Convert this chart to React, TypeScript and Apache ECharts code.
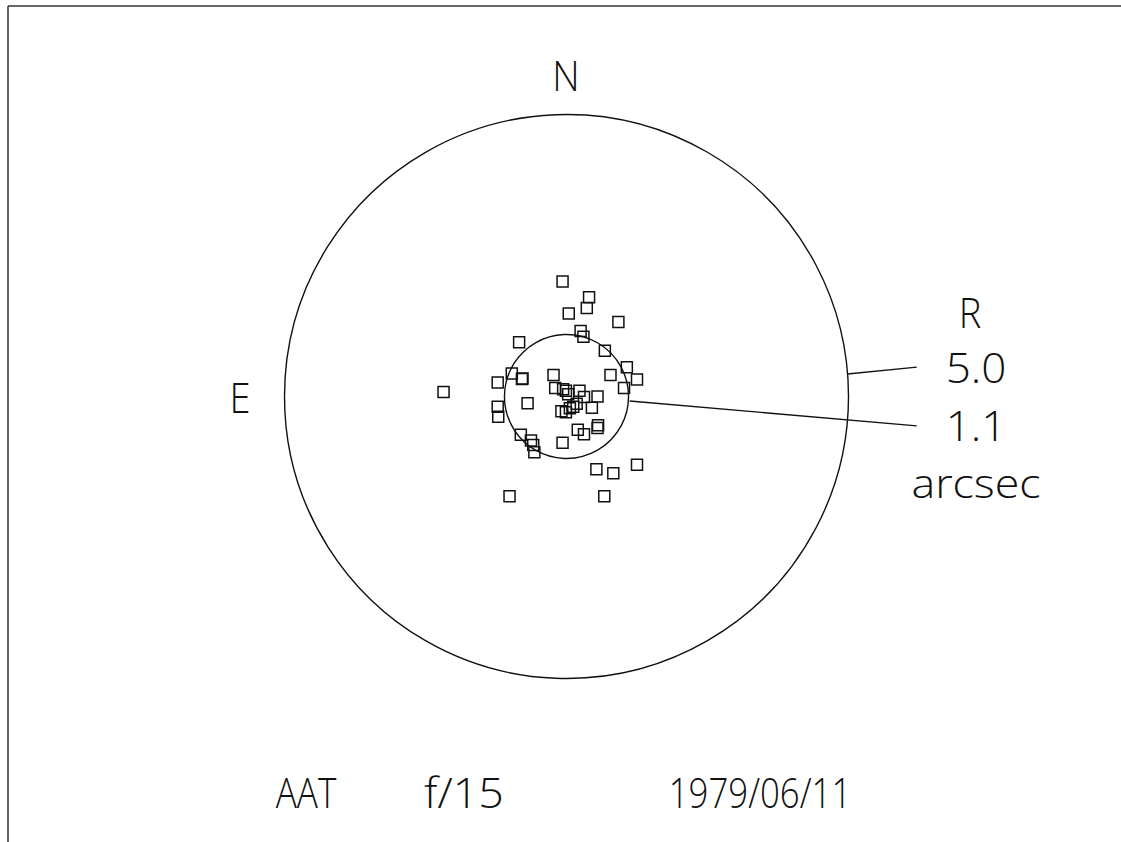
import React, { useEffect, useRef } from "react";
import * as echarts from "echarts";

// Offsets of each image from the reference position, in arcsec (x to the right, y up)
const offsetX = [
  -0.07, 0.4, 0.36, 0.04, 0.92, 0.25, 0.3, -0.84, 0.68, 1.07,
  1.25, 1.02, 0.78, -0.97, -0.78, -0.79, -1.22, -2.18, -0.23, -0.2,
  -0.06, -0.01, 0.03, 0.23, 0.31, 0.55, 0.45, -0.69, -1.22, -1.21,
  -0.09, -0.01, 0.06, 0.12, 0.18, 0.56, 0.55, 0.2, 0.31, -0.81,
  -0.63, -0.59, -0.57, -0.07, 0.53, 0.83, 1.25, -1.01, 0.67,
];
const offsetY = [
  2.04, 1.76, 1.57, 1.47, 1.32, 1.16, 1.06, 0.96, 0.81, 0.52,
  0.3, 0.15, 0.38, 0.41, 0.32, 0.31, 0.25, 0.08, 0.38, 0.15,
  0.13, 0.1, 0.04, 0.1, -0.01, 0.0, -0.2, -0.12, -0.18, -0.36,
  -0.26, -0.28, -0.21, -0.18, -0.13, -0.51, -0.56, -0.59, -0.67, -0.68,
  -0.78, -0.86, -0.99, -0.82, -1.29, -1.36, -1.21, -1.77, -1.77,
];
const circleRadii = [5.0, 1.1];
const radiusLabels = ["5.0", "1.1"];
const unitLabel = "arcsec";
const titleParts = ["AAT", "f/15", "1979/06/11"];

export default function App() {
  const ref = useRef<HTMLDivElement>(null);
  useEffect(() => {
    if (!ref.current) return;
    const chart = echarts.init(ref.current, null, { renderer: "svg" });
    const font = "'Open Sans', 'DejaVu Sans', sans-serif";
    const textStyle = (size: number) => ({
      fill: "#111",
      font: `300 ${size}px ${font}`,
      align: "center",
      verticalAlign: "middle",
    });
    const points = offsetX.map((x, i) => [x, offsetY[i]]);
    // leader lines: start on circle, end near label (arcsec coords)
    const leaders = [
      [4.98, 0.4, 6.21, 0.52],
      [1.12, -0.08, 6.21, -0.52],
    ];
    const txt = (text: string, x: number, y: number, sx = 1, sy = 1) => ({
      type: "text",
      x,
      y,
      scaleX: sx,
      scaleY: sy,
      style: { text, ...textStyle(40) },
    });
    chart.setOption({
      animation: false,
      backgroundColor: "#fff",
      grid: { left: 171.7, top: 1.7, width: 789.6, height: 789.6 },
      xAxis: { type: "value", min: -7, max: 7, show: false },
      yAxis: { type: "value", min: -7, max: 7, show: false },
      series: [
        {
          type: "custom",
          clip: false,
          silent: true,
          data: circleRadii.map((r) => [0, 0, r]),
          renderItem: (params: any, api: any) => {
            const c = api.coord([api.value(0), api.value(1)]);
            const r = api.size([api.value(2), 0])[0];
            return {
              type: "circle",
              shape: { cx: c[0], cy: c[1], r },
              style: { fill: "none", stroke: "#111", lineWidth: 1.4 },
            };
          },
        },
        {
          type: "custom",
          clip: false,
          silent: true,
          data: leaders,
          renderItem: (params: any, api: any) => {
            const a = api.coord([api.value(0), api.value(1)]);
            const b = api.coord([api.value(2), api.value(3)]);
            return {
              type: "line",
              shape: { x1: a[0], y1: a[1], x2: b[0], y2: b[1] },
              style: { stroke: "#111", lineWidth: 1.4 },
            };
          },
        },
        {
          type: "scatter",
          data: points,
          symbol: "rect",
          symbolSize: 11,
          itemStyle: {
            color: "rgba(0,0,0,0)",
            borderColor: "#111",
            borderWidth: 1.5,
            opacity: 1,
          },
          silent: true,
        },
      ],
      graphic: [
        { type: "line", shape: { x1: 8, y1: 6, x2: 1121, y2: 6 }, style: { stroke: "#333", lineWidth: 1.5 } },
        { type: "line", shape: { x1: 8, y1: 6, x2: 8, y2: 842 }, style: { stroke: "#333", lineWidth: 1.5 } },
        txt("N", 566, 75, 0.95, 1.05),
        txt("E", 240, 397, 0.95, 1.05),
        txt("R", 970, 312, 0.95, 1.05),
        txt(radiusLabels[0], 976, 367, 1.1, 1.05),
        txt(radiusLabels[1], 976, 425, 1.1, 1.05),
        txt(unitLabel, 976, 482, 1.12, 1.0),
        txt(titleParts[0], 306, 792, 0.88, 1.05),
        txt(titleParts[1], 464, 792, 1.12, 1.05),
        txt(titleParts[2], 760, 792, 0.87, 1.05),
      ],
    });
    return () => chart.dispose();
  }, []);
  return (
    <div
      ref={ref}
      style={{ position: "fixed", left: 0, top: 0, width: 1121, height: 842 }}
    />
  );
}
